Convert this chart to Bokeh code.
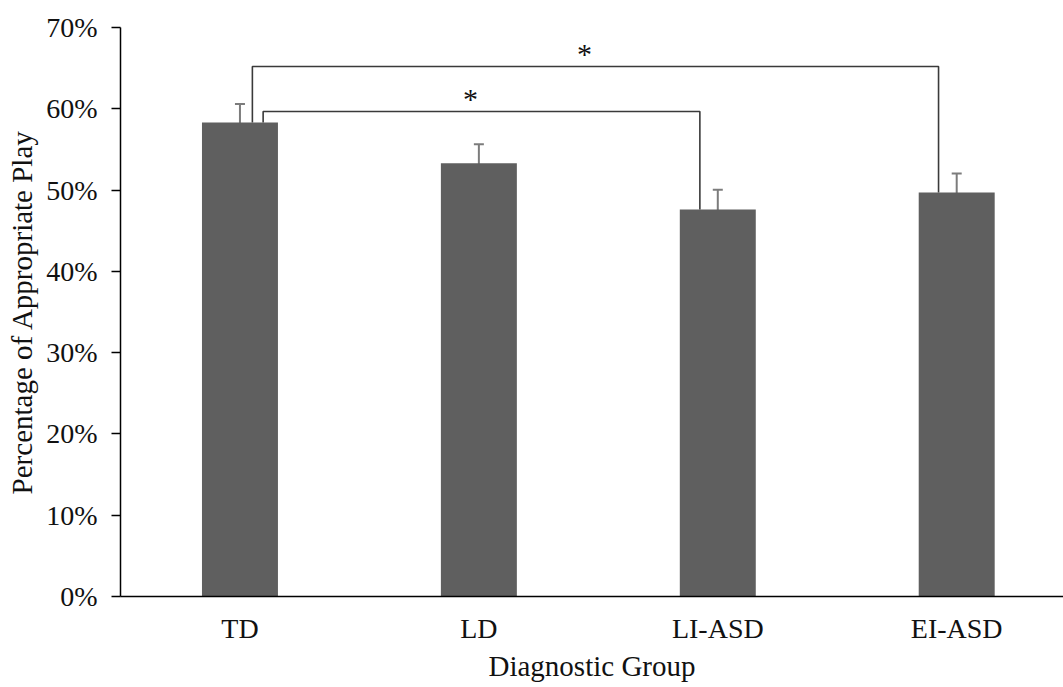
from bokeh.plotting import figure
from bokeh.models import (Range1d, FixedTicker, NumeralTickFormatter, ColumnDataSource,
                          Whisker, TeeHead)
from bokeh.core.properties import value
from bokeh.embed import file_html
from bokeh.resources import INLINE

# ---- data ----
groups = ["TD", "LD", "LI-ASD", "EI-ASD"]
means = [0.583, 0.533, 0.476, 0.497]
errors = [0.023, 0.0235, 0.0245, 0.0235]
comparisons = [("TD", "LI-ASD"), ("TD", "EI-ASD")]
bracket_levels = [0.5966, 0.652]
sig_labels = ["*", "*"]
y_ticks = [0.0, 0.1, 0.2, 0.3, 0.4, 0.5, 0.6, 0.7]

# ---- style ----
FONT = "Liberation Serif"
BAR_COLOR = "#5f5f5f"
ERR_COLOR = "#7c7c7c"
BRACKET_COLOR = "#3a3a3a"
leg_offsets = [(0.097, -0.075), (0.052, -0.076)]

xpos = list(range(len(groups)))
idx = {g: i for i, g in enumerate(groups)}

p = figure(width=1063, height=687, output_backend="svg", toolbar_location=None,
           x_range=Range1d(-0.5, 3.447), y_range=Range1d(0, 0.7),
           min_border_left=120, min_border_right=0, min_border_top=27,
           min_border_bottom=91)
p.outline_line_color = None
p.xgrid.grid_line_color = None
p.ygrid.grid_line_color = None
p.background_fill_color = "white"
p.border_fill_color = "white"

src = ColumnDataSource(dict(x=xpos, top=means,
                            upper=[m + e for m, e in zip(means, errors)],
                            lower=[m - e for m, e in zip(means, errors)]))
p.vbar(x="x", top="top", bottom=0, width=0.318, source=src,
       fill_color=BAR_COLOR, line_color=None)

w = Whisker(source=src, base="x", upper="upper", lower="lower",
            line_color=ERR_COLOR, line_width=2,
            upper_head=TeeHead(size=10, line_color=ERR_COLOR, line_width=2),
            lower_head=TeeHead(size=0, line_color=None))
p.add_layout(w)

# significance brackets
xs, ys, sx, sy = [], [], [], []
for (a, b), lvl, (ol, orr) in zip(comparisons, bracket_levels, leg_offsets):
    i, j = idx[a], idx[b]
    xl, xr = i + ol, j + orr
    xs.append([xl, xl, xr, xr])
    ys.append([means[i], lvl, lvl, means[j]])
    sx.append((xl + xr) / 2)
    sy.append(lvl)
p.multi_line(xs=xs, ys=ys, line_color=BRACKET_COLOR, line_width=1.6)
p.text(x=sx, y=sy, text=sig_labels, text_font=value(FONT), text_font_size="30px",
       text_align="center", text_baseline="alphabetic", text_color="#111111",
       x_offset=-11, y_offset=-13)

# axes
p.xaxis.ticker = FixedTicker(ticks=xpos)
p.xaxis.major_label_overrides = {i: g for i, g in enumerate(groups)}
p.xaxis.major_tick_out = 0
p.xaxis.major_tick_in = 0
p.xaxis.minor_tick_line_color = None
p.xaxis.axis_line_color = "black"
p.xaxis.axis_line_width = 1.5
p.xaxis.axis_label = "Diagnostic Group"
p.xaxis.major_label_standoff = 16
p.xaxis.axis_label_standoff = 3

p.yaxis.ticker = FixedTicker(ticks=y_ticks)
p.yaxis.formatter = NumeralTickFormatter(format="0%")
p.yaxis.major_tick_out = 9
p.yaxis.major_tick_in = 0
p.yaxis.major_tick_line_color = "black"
p.yaxis.major_tick_line_width = 1.5
p.yaxis.minor_tick_line_color = None
p.yaxis.axis_line_color = "black"
p.yaxis.axis_line_width = 1.5
p.yaxis.axis_label = "Percentage of Appropriate Play"
p.yaxis.major_label_standoff = 14
p.yaxis.axis_label_standoff = 5

for ax in (p.xaxis, p.yaxis):
    ax.major_label_text_font = FONT
    ax.major_label_text_font_size = "28px"
    ax.major_label_text_color = "#111111"
    ax.major_label_text_line_height = 1.0
    ax.axis_label_text_font = FONT
    ax.axis_label_text_font_size = "29px"
    ax.axis_label_text_font_style = "normal"
    ax.axis_label_text_color = "#111111"
    ax.axis_label_text_line_height = 1.0

open("out.html", "w").write(file_html(p, INLINE))
